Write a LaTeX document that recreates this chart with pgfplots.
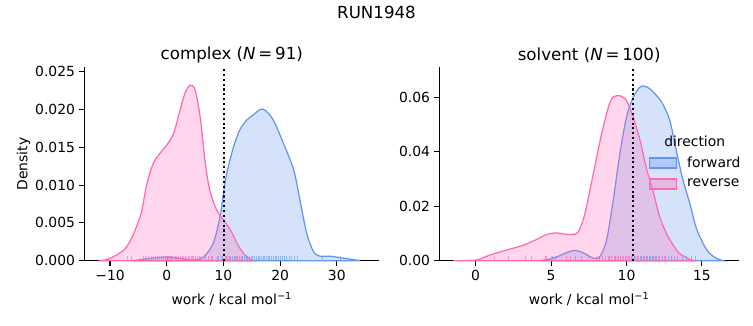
\documentclass[border=0pt]{standalone}
\usepackage{fontspec}
\setmainfont{DejaVu Sans}
\usepackage{pgfplots}
\pgfplotsset{compat=1.18}
\definecolor{fwd}{HTML}{6495ED}
\definecolor{rev}{HTML}{FF69B4}
\pgfplotsset{
  mystyle/.style={
    scale only axis,
    axis x line*=bottom, axis y line*=left,
    axis line style={line width=0.8pt,-},
    tick align=outside, tick style={line width=0.8pt,black},
    major tick length=3.5pt,
    minor tick num=0,
    scaled y ticks=false, scaled x ticks=false,
    font=\fontsize{10}{12}\selectfont,
    tick label style={font=\fontsize{10}{12}\selectfont},
    xticklabel style={inner sep=1pt, yshift=-2pt},
    yticklabel style={inner sep=1pt, xshift=-2pt},
    xlabel={work / kcal mol\textsuperscript{−1}},
    xlabel style={font=\fontsize{10}{12}\selectfont, yshift=-4pt},
    title style={font=\fontsize{12}{14}\selectfont, yshift=-6.5pt},
    clip=false,
  },
  fwdfill/.style={draw=fwd, line width=0.9pt, fill=fwd, fill opacity=0.27, draw opacity=1, smooth, tension=0.5},
  revfill/.style={draw=rev, line width=0.9pt, fill=rev, fill opacity=0.27, draw opacity=1, smooth, tension=0.5},
}
\begin{document}
\begin{tikzpicture}
\path[use as bounding box] (0,0) rectangle (542.16pt,234pt);
\node[font=\fontsize{12}{14}\selectfont] at (271.08pt,225.3pt) {RUN1948};
% ---------------- complex ----------------
\begin{axis}[mystyle,
  at={(60.7pt,46.3pt)}, anchor=south west,
  width=212.4pt, height=139.2pt,
  xmin=-14.54, xmax=37.5, ymin=0, ymax=0.02557,
  xtick={-10,0,10,20,30}, xticklabels={−10,0,10,20,30},
  ytick={0,0.005,0.01,0.015,0.02,0.025},
  yticklabels={0.000,0.005,0.010,0.015,0.020,0.025},
  ylabel={Density}, ylabel style={font=\fontsize{10}{12}\selectfont, yshift=-1pt},
  title={complex (\textit{N}\,=\,91)},
]
\addplot[fwdfill] coordinates {
(-5.9,0) (-2.9,0.0003) (0,0.0005) (2.35,0.0003) (4.7,0.0001) (6.5,0.0005) (8.2,0.0023)
(9.4,0.0058) (10,0.0089) (10.6,0.0116) (11.8,0.0151) (12.9,0.0173) (14.1,0.0186)
(15.3,0.0193) (16.5,0.0200) (17.35,0.0199) (18.8,0.0186) (20.6,0.0155) (22.4,0.0120)
(23.5,0.0080) (24.7,0.0036) (25.9,0.0012) (27,0.0006) (28.8,0.0006) (30.6,0.0004)
(32.4,0.0002) (34.1,0)
} \closedcycle;
\addplot[revfill] coordinates {
(-12,0) (-10,0.0003) (-7.06,0.00185) (-4.7,0.0058) (-3.5,0.0102) (-2.35,0.0129)
(-1.2,0.0142) (0,0.0153) (1.2,0.0168) (2.35,0.0199) (3.2,0.0221) (4.1,0.0232)
(5.0,0.0226) (5.9,0.0190) (6.8,0.0129) (7.6,0.0093) (8.8,0.0067) (10,0.0054)
(11.2,0.0041) (12.4,0.0023) (13.5,0.0010) (14.7,0.0002) (15.3,0)
} \closedcycle;
\addplot[ycomb, no marks, draw=fwd, draw opacity=0.6, line width=0.7pt] coordinates {
(0.2,0.00064) (0.9,0.00064) (7.9,0.00064) (9.2,0.00064) (9.8,0.00064) (10.3,0.00064) (10.7,0.00064)
(11.0,0.00064) (11.3,0.00064) (11.6,0.00064) (11.9,0.00064) (12.2,0.00064) (12.5,0.00064)
(12.8,0.00064) (13.1,0.00064) (13.4,0.00064) (13.7,0.00064) (14.0,0.00064) (14.3,0.00064)
(14.6,0.00064) (14.9,0.00064) (15.2,0.00064) (15.5,0.00064) (15.8,0.00064) (16.1,0.00064)
(16.4,0.00064) (16.7,0.00064) (17.0,0.00064) (17.3,0.00064) (17.6,0.00064) (17.9,0.00064)
(18.2,0.00064) (18.5,0.00064) (18.8,0.00064) (19.1,0.00064) (19.4,0.00064) (19.7,0.00064)
(20.0,0.00064) (20.4,0.00064) (20.8,0.00064) (21.2,0.00064) (21.6,0.00064) (22.0,0.00064)
(22.5,0.00064) (23.0,0.00064) (27.5,0.00064) (30.6,0.00064)
};
\addplot[ycomb, no marks, draw=rev, draw opacity=0.6, line width=0.7pt] coordinates {
(-6.9,0.00064) (-6.3,0.00064) (-4.1,0.00064) (-3.8,0.00064) (-3.2,0.00064) (-2.7,0.00064)
(-2.4,0.00064) (-2.0,0.00064) (-1.6,0.00064) (-1.3,0.00064) (-1.0,0.00064) (-0.6,0.00064)
(-0.3,0.00064) (0.0,0.00064) (0.3,0.00064) (0.6,0.00064) (0.9,0.00064) (1.2,0.00064)
(1.5,0.00064) (1.8,0.00064) (2.1,0.00064) (2.4,0.00064) (2.7,0.00064) (3.0,0.00064)
(3.3,0.00064) (3.5,0.00064) (3.8,0.00064) (4.0,0.00064) (4.3,0.00064) (4.5,0.00064)
(4.8,0.00064) (5.1,0.00064) (5.4,0.00064) (5.7,0.00064) (6.0,0.00064) (6.4,0.00064)
(6.8,0.00064) (7.3,0.00064) (8.0,0.00064) (9.0,0.00064) (9.6,0.00064) (10.5,0.00064)
(11.2,0.00064) (12.3,0.00064)
};
\addplot[black, dotted, line width=1.5pt] coordinates {(10.05,0) (10.05,0.02557)};
\end{axis}
% ---------------- solvent ----------------
\begin{axis}[mystyle,
  at={(316.3pt,46.3pt)}, anchor=south west,
  width=215.8pt, height=139.2pt,
  xmin=-2.41, xmax=17.46, ymin=0, ymax=0.0710,
  xtick={0,5,10,15}, xticklabels={0,5,10,15},
  ytick={0,0.02,0.04,0.06},
  yticklabels={0.00,0.02,0.04,0.06},
  title={solvent (\textit{N}\,=\,100)},
  legend style={at={(rel axis cs:0.697,0.55)}, anchor=north west, draw=none, fill=none,
    font=\fontsize{10}{12}\selectfont, inner sep=0pt, row sep=4pt,
    nodes={inner sep=1.5pt},
    /tikz/every odd column/.append style={column sep=6pt}},
  legend cell align=left,
  legend image code/.code={\draw[#1, fill opacity=0.32, line width=0.8pt, sharp plot] (0pt,-3.6pt) rectangle (19.5pt,3.6pt);},
]
\addplot[fwdfill] coordinates {
(4.26,0) (5.14,0.0009) (6.0,0.0029) (6.58,0.0038) (7.13,0.0029) (7.8,0.0009) (8.23,0.0015)
(8.68,0.0076) (9.12,0.0222) (9.56,0.0393) (10,0.0527) (10.44,0.0600) (10.88,0.0637)
(11.2,0.0641) (11.55,0.0631) (12,0.0606) (12.4,0.0576) (12.87,0.0515) (13.3,0.0405)
(13.75,0.0295) (14.2,0.0210) (14.6,0.0124) (15.08,0.0063) (15.5,0.0027) (15.96,0.0009)
(16.4,0)
} \closedcycle;
\addlegendentry{forward}
\addplot[revfill] coordinates {
(-1.48,0) (0,0.0002) (0.95,0.0021) (2.05,0.0039) (3.16,0.0057) (4.04,0.0078) (4.7,0.0096)
(5.36,0.0102) (6.25,0.0096) (6.8,0.0106) (7.24,0.0173) (7.8,0.0320) (8.35,0.0466)
(8.8,0.0564) (9.1,0.0600) (9.56,0.0606) (10,0.0588) (10.44,0.0527) (10.9,0.0442)
(11.3,0.0344) (11.8,0.0246) (12.2,0.0161) (12.65,0.0100) (13.1,0.0057) (13.5,0.0027)
(14.2,0.0005) (14.6,0)
} \closedcycle;
\addlegendentry{reverse}
\addplot[ycomb, no marks, draw=fwd, draw opacity=0.6, line width=0.7pt, forget plot] coordinates {
(4.6,0.00176) (5.1,0.00176) (6.6,0.00176) (8.2,0.00176) (8.9,0.00176) (9.3,0.00176) (9.6,0.00176)
(9.9,0.00176) (10.1,0.00176) (10.3,0.00176) (10.5,0.00176) (10.7,0.00176) (10.9,0.00176)
(11.0,0.00176) (11.1,0.00176) (11.2,0.00176) (11.3,0.00176) (11.4,0.00176) (11.5,0.00176)
(11.6,0.00176) (11.7,0.00176) (11.8,0.00176) (11.9,0.00176) (12.0,0.00176) (12.2,0.00176)
(12.4,0.00176) (12.6,0.00176) (12.8,0.00176) (13.0,0.00176) (13.2,0.00176) (13.4,0.00176)
(13.7,0.00176) (14.0,0.00176) (14.3,0.00176) (14.6,0.00176)
};
\addplot[ycomb, no marks, draw=rev, draw opacity=0.6, line width=0.7pt, forget plot] coordinates {
(1.25,0.00176) (2.2,0.00176) (3.3,0.00176) (3.7,0.00176) (4.7,0.00176) (5.0,0.00176) (5.3,0.00176)
(6.0,0.00176) (6.3,0.00176) (7.0,0.00176) (7.5,0.00176) (8.0,0.00176) (8.2,0.00176) (8.4,0.00176)
(8.6,0.00176) (8.8,0.00176) (9.0,0.00176) (9.2,0.00176) (9.4,0.00176) (9.5,0.00176) (9.6,0.00176)
(9.7,0.00176) (9.8,0.00176) (9.9,0.00176) (10.0,0.00176) (10.1,0.00176) (10.2,0.00176)
(10.4,0.00176) (10.6,0.00176) (10.8,0.00176) (11.0,0.00176) (11.2,0.00176) (11.5,0.00176)
(11.8,0.00176) (12.1,0.00176) (12.5,0.00176) (13.0,0.00176)
};
\addplot[black, dotted, line width=1.5pt, forget plot] coordinates {(10.44,0) (10.44,0.0710)};
\node[font=\fontsize{10}{12}\selectfont] at (rel axis cs:0.852,0.62) {direction};
\end{axis}
\end{tikzpicture}
\end{document}
